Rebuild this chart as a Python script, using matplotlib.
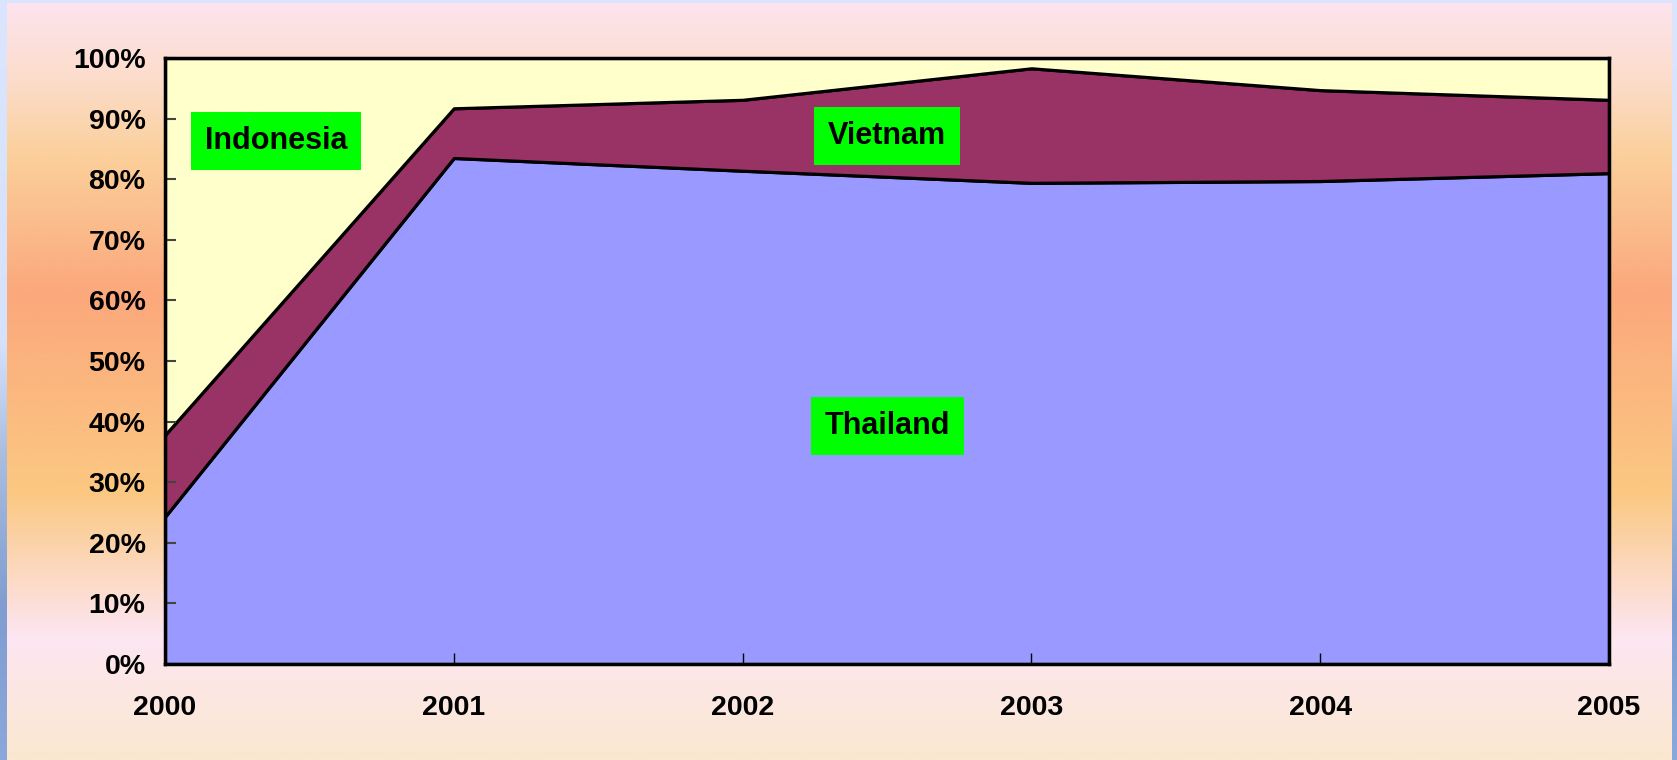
import numpy as np
import matplotlib
matplotlib.use("Agg")
import matplotlib.pyplot as plt
from matplotlib.colors import LinearSegmentedColormap

# share of each country per year (percent)
years = [2000, 2001, 2002, 2003, 2004, 2005]
thailand = [24.3, 83.5, 81.4, 79.4, 79.7, 81.0]
vietnam = [13.5, 8.2, 11.7, 18.9, 15.0, 12.1]
indonesia = [62.2, 8.3, 6.9, 1.7, 5.3, 6.9]

country_names = ["Thailand", "Vietnam", "Indonesia"]
fill_colors = ["#9999ff", "#993366", "#ffffcc"]

# label boxes: (text, year position, percent position)
labels = [("Indonesia", 2000.384, 86.3),
          ("Vietnam", 2002.5, 87.1),
          ("Thailand", 2002.5, 39.3)]

plt.rcParams["font.family"] = ["Liberation Sans", "DejaVu Sans"]
plt.rcParams["font.weight"] = "bold"

fig = plt.figure(figsize=(16.77, 7.6), dpi=100)

# blue slide edge behind everything
edge = fig.add_axes([0, 0, 1, 1], zorder=-3)
edge_cmap = LinearSegmentedColormap.from_list(
    "edge", [(0, "#dbe5fd"), (0.45, "#d6e2fb"), (0.6, "#a9bde0"),
             (0.8, "#7f9dd0"), (1, "#8aa8da")])
edge.imshow(np.linspace(0, 1, 256).reshape(-1, 1), aspect="auto",
            cmap=edge_cmap, extent=[0, 1, 0, 1], origin="upper")
edge.axis("off")

# warm vertical gradient panel
panel = fig.add_axes([7 / 1677, 0, 1665 / 1677, 757 / 760], zorder=-2)
panel_cmap = LinearSegmentedColormap.from_list(
    "panel", [(0, "#fde4ee"), (80 / 757, "#fcdcc8"), (150 / 757, "#fbd09c"),
              (290 / 757, "#fba87c"), (490 / 757, "#fbc882"),
              (635 / 757, "#fde6f2"), (1, "#fbe8d0")])
panel.imshow(np.linspace(0, 1, 512).reshape(-1, 1), aspect="auto",
             cmap=panel_cmap, extent=[0, 1, 0, 1], origin="upper")
panel.axis("off")

ax = fig.add_axes([165 / 1677, (760 - 664) / 760, 1444 / 1677, 606 / 760])
ax.stackplot(years, thailand, vietnam, indonesia, labels=country_names,
             colors=fill_colors, edgecolor="black", linewidth=2.3)

ax.set_xlim(2000, 2005)
ax.set_ylim(0, 100)
ax.set_xticks(years)
ax.set_xticklabels([str(y) for y in years])
ax.set_yticks(range(0, 101, 10))
ax.set_yticklabels([f"{v}%" for v in range(0, 101, 10)])
ax.tick_params(axis="y", direction="in", length=8, width=1.5, color="#444444",
               labelsize=20.5, pad=14)
ax.tick_params(axis="x", direction="in", length=8, width=1, color="black",
               labelsize=20.5, pad=22)
for side in ax.spines.values():
    side.set_linewidth(2.5)
    side.set_color("black")

for text, x, y in labels:
    ax.text(x, y, text, ha="center", va="center", fontsize=22,
            fontweight="bold", color="black",
            bbox=dict(boxstyle="square,pad=0.45", facecolor="#00ff00",
                      edgecolor="none"))

fig.savefig("out.png", dpi=100)
